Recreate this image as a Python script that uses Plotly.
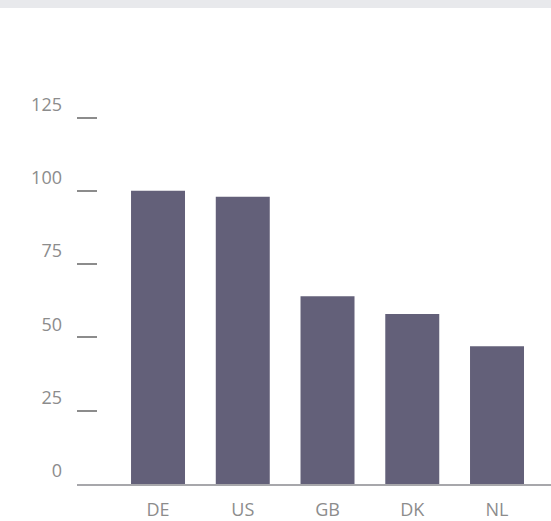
import plotly.graph_objects as go

categories = ["DE", "US", "GB", "DK", "NL"]
values = [100, 98, 64, 58, 47]
y_ticks = [0, 25, 50, 75, 100, 125]

W, H = 551, 521
plot_left, plot_top, plot_bottom = 77, 40, 484
unit = 73.3 / 25.0
ymax = (plot_bottom - plot_top) / unit

fig = go.Figure(go.Bar(
    x=list(range(len(categories))), y=values,
    marker=dict(color="#636079", line=dict(width=0)),
    hoverinfo="skip",
))

font = dict(family="Open Sans", size=18, color="#8c8c8c")

fig.update_layout(
    width=W, height=H,
    margin=dict(l=plot_left, r=0, t=plot_top, b=H - plot_bottom, pad=0),
    paper_bgcolor="white", plot_bgcolor="white",
    showlegend=False,
    bargap=0.363,
    xaxis=dict(
        range=[-0.956, 4.637], tickmode="array",
        tickvals=list(range(len(categories))), ticktext=categories,
        showgrid=False, zeroline=False, showline=True, automargin=False,
        linecolor="#a7a7ab", linewidth=2, ticks="", ticklabelstandoff=8,
        tickfont=font, fixedrange=True,
    ),
    yaxis=dict(
        range=[0, ymax], tickmode="array", tickvals=y_ticks,
        showgrid=False, zeroline=False, showline=False, automargin=False,
        ticks="inside", ticklen=20, tickwidth=1.5, tickcolor="#8c8c8c",
        ticklabelstandoff=14, ticklabelshift=-13,
        tickfont=font, fixedrange=True,
    ),
    shapes=[dict(type="rect", xref="paper", yref="paper",
                 x0=-1, x1=2, y0=1 + (plot_top - 8) / (plot_bottom - plot_top),
                 y1=1 + plot_top / (plot_bottom - plot_top),
                 fillcolor="#e8e9ec", line=dict(width=0), layer="below")],
)

fig.write_html(
    "out.html",
    config={"displayModeBar": False},
    post_script="document.body.style.margin='0';document.body.style.padding='0';",
)
